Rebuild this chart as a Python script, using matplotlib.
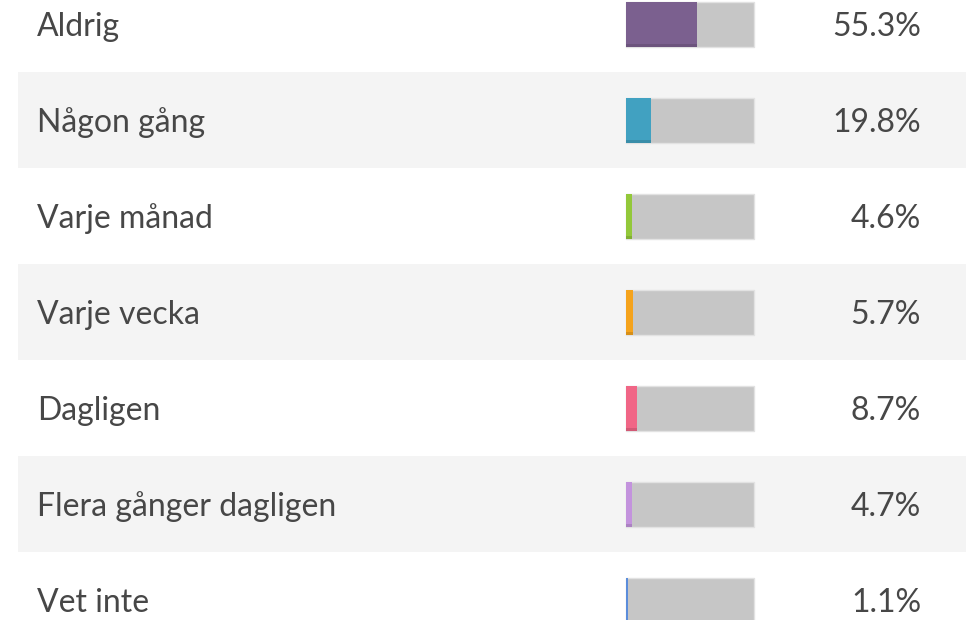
import matplotlib.pyplot as plt
from matplotlib.patches import Rectangle

labels = ["Aldrig", "Någon gång", "Varje månad", "Varje vecka",
          "Dagligen", "Flera gånger dagligen", "Vet inte"]
values = [55.3, 19.8, 4.6, 5.7, 8.7, 4.7, 1.1]
colors = ["#7b608f", "#41a1c1", "#93c83a", "#f5a31c",
          "#f06686", "#c393dd", "#5b8ddb"]

plt.rcParams["font.family"] = ["Lato", "DejaVu Sans"]

W, H = 971, 620
row_h = 96
top = 24
bar_x, bar_w, bar_h = 626, 128, 45

fig = plt.figure(figsize=(W / 100, H / 100), dpi=100)
ax = fig.add_axes([0, 0, 1, 1])
ax.set_xlim(0, W)
ax.set_ylim(H, 0)
ax.axis("off")

for i, (lab, val, col) in enumerate(zip(labels, values, colors)):
    yc = top + i * row_h
    if i % 2 == 1:
        ax.add_patch(Rectangle((18, yc - row_h / 2), 948, row_h,
                               facecolor="#f4f4f4", edgecolor="none", zorder=0))
    # grey track with a faint outline
    ax.barh(yc, bar_w, left=bar_x, height=bar_h, color="#c6c6c6",
            edgecolor="#e2e2e2", linewidth=1, zorder=1)
    w = max(val / 100 * bar_w, 1.5)
    ax.barh(yc, w, left=bar_x, height=bar_h, color=col, zorder=2)
    # darker strip along the bottom of the filled part
    ax.barh(yc + bar_h / 2 - 1.5, w, left=bar_x, height=3, color="black",
            alpha=0.12, zorder=3)
    ax.text(37, yc + 3, lab, fontsize=23, color="#474747", va="center", ha="left")
    ax.text(921, yc + 3, f"{val:.1f}%", fontsize=23, color="#474747",
            va="center", ha="right")

fig.savefig("out.png", dpi=100)
